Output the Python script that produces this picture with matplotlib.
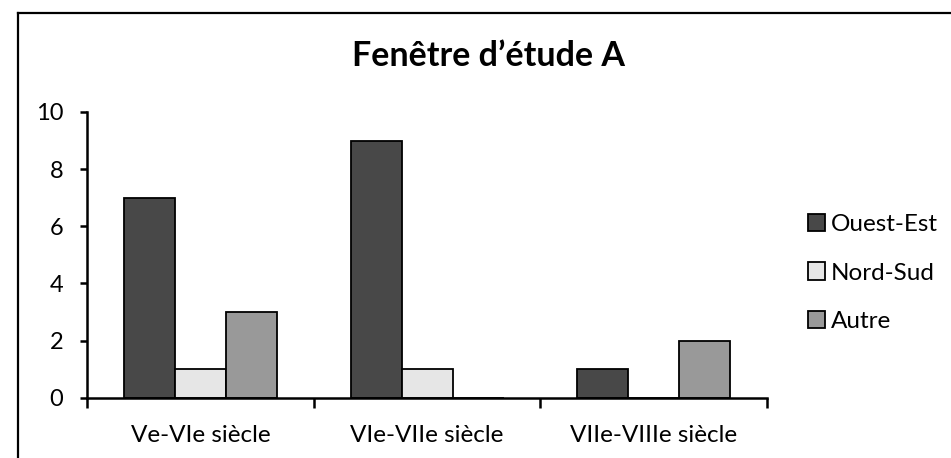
import matplotlib
matplotlib.use("Agg")
import matplotlib.pyplot as plt
from matplotlib.lines import Line2D
import numpy as np

categories = ["Ve-VIe siècle", "VIe-VIIe siècle", "VIIe-VIIIe siècle"]
series_names = ["Ouest-Est", "Nord-Sud", "Autre"]
ouest_est = [7, 9, 1]
nord_sud = [1, 1, 0]
autre = [3, 0, 2]
yticks = [0, 2, 4, 6, 8, 10]
title = "Fenêtre d’étude A"

colors = ["#484848", "#e6e6e6", "#999999"]

plt.rcParams['font.family'] = ['Lato', 'DejaVu Sans']

W, H = 951, 458
fig = plt.figure(figsize=(W / 100, H / 100), dpi=100)

def fx(px):
    return px / W

def fy(py):
    return 1 - py / H

ax_left, ax_right, ax_top, ax_bot = 87, 767, 112, 397.7
ax = fig.add_axes([fx(ax_left), fy(ax_bot), fx(ax_right - ax_left), (ax_bot - ax_top) / H])

x = np.arange(len(categories))
bw = 0.225
for i, (vals, name) in enumerate(zip([ouest_est, nord_sud, autre], series_names)):
    ax.bar(x + (i - 1) * bw, vals, width=bw, color=colors[i], edgecolor="black",
           linewidth=1.3, label=name, zorder=2)

ax.set_xlim(-0.5, len(categories) - 0.5)
ax.set_ylim(0, 10)
ax.set_yticks(yticks)
ax.set_yticklabels([str(v) for v in yticks], fontsize=17)
ax.set_xticks(x)
ax.set_xticklabels(categories, fontsize=17.5)
ax.set_xticks(np.arange(-0.5, len(categories), 1.0), minor=True)
ax.tick_params(axis="x", which="major", length=0, pad=20)
ax.tick_params(axis="x", which="minor", length=7, width=1.8, direction="out")
ax.tick_params(axis="y", which="major", length=5, width=1.8, direction="out", pad=12)

for s in ["top", "right"]:
    ax.spines[s].set_visible(False)
for s in ["left", "bottom"]:
    ax.spines[s].set_linewidth(1.8)
    ax.spines[s].set_color("black")
    ax.spines[s].set_zorder(3)

fig.text(fx(489), fy(56), title, ha="center", va="center", fontsize=24.5, fontweight="bold")

handles, labels = ax.get_legend_handles_labels()
leg = fig.legend(handles, labels, loc="center left", bbox_to_anchor=(fx(808), fy(273)),
                 frameon=False, fontsize=17.5, handlelength=0.7, handleheight=0.7,
                 handletextpad=0.25, labelspacing=1.15, borderpad=0, borderaxespad=0)

# outer chart border (left and top visible)
fig.add_artist(Line2D([fx(18), fx(18)], [fy(13), -0.1], color="black", linewidth=1.6,
                      transform=fig.transFigure))
fig.add_artist(Line2D([fx(18), 1.1], [fy(13), fy(13)], color="black", linewidth=1.6,
                      transform=fig.transFigure))

fig.savefig("out.png", dpi=100)
